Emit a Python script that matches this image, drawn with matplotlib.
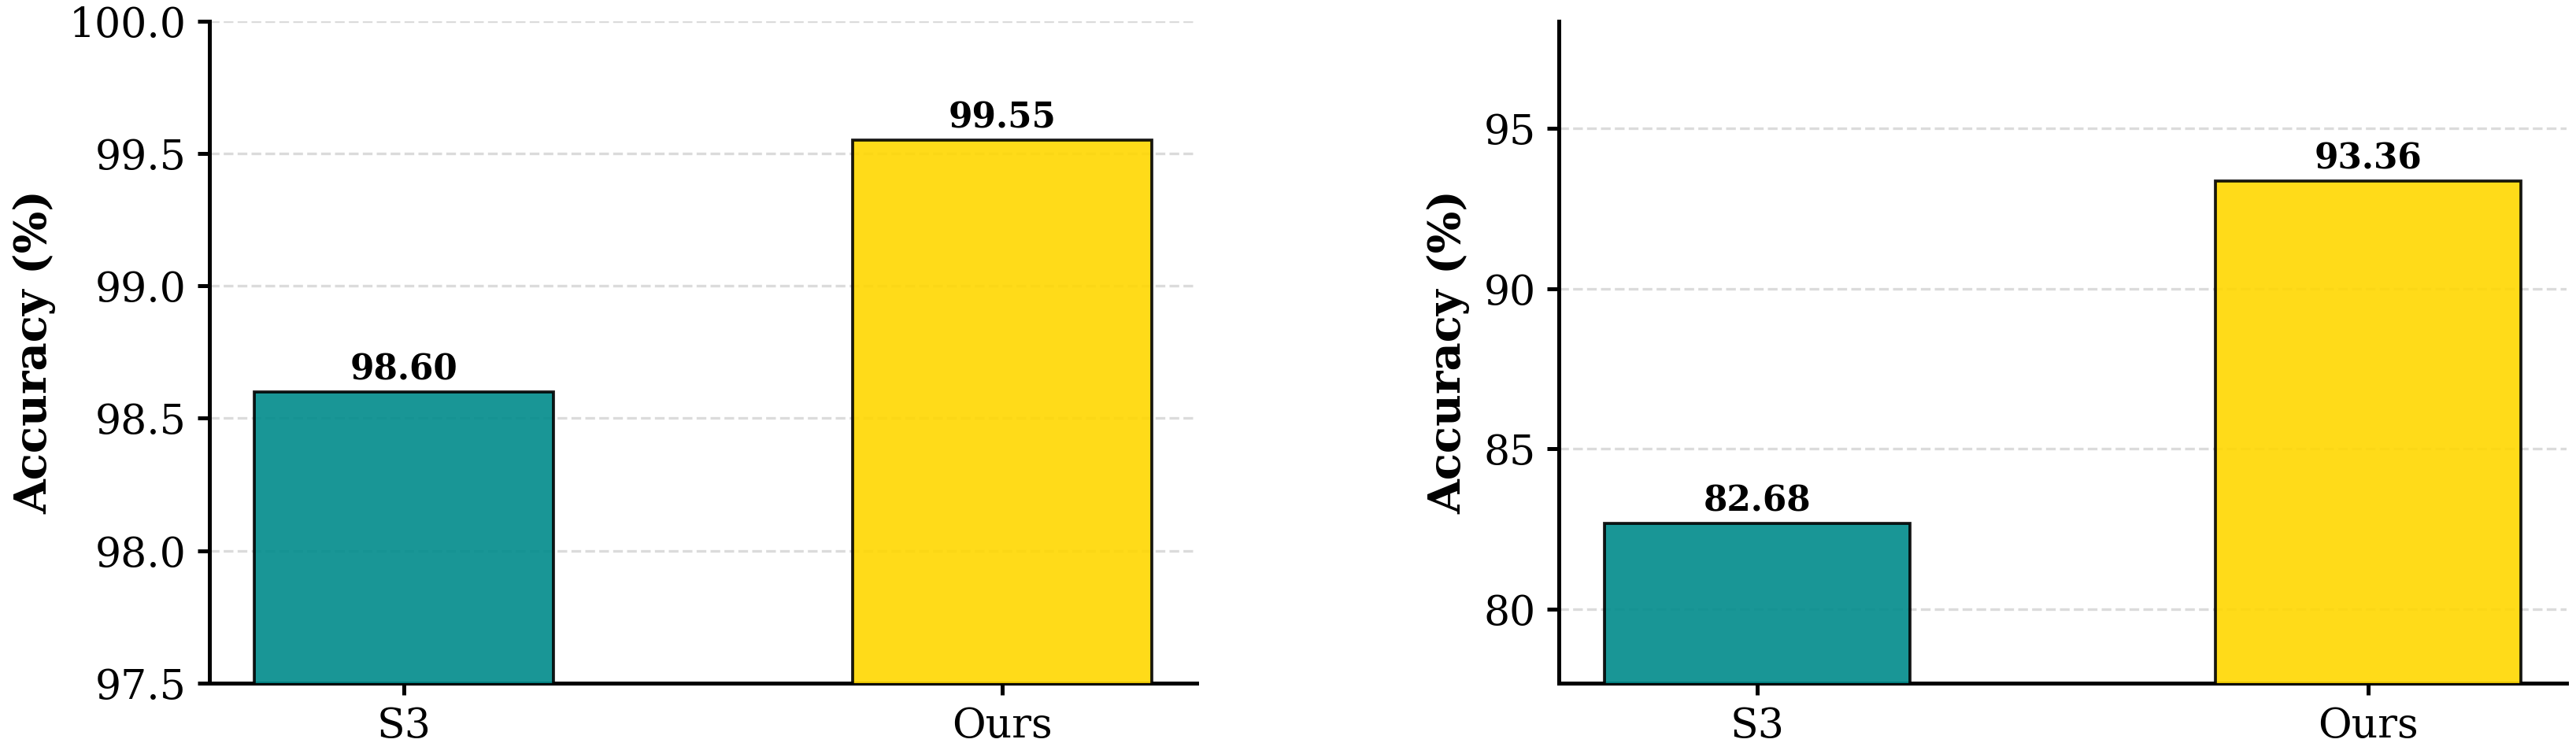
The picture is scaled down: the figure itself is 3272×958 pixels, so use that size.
import matplotlib
matplotlib.use("Agg")
import matplotlib.pyplot as plt

methods = ["S3", "Ours"]
acc_left = [98.60, 99.55]
acc_right = [82.68, 93.36]
ylim_left = (97.5, 100.0)
ylim_right = (77.68, 98.36)
yticks_left = [97.5, 98.0, 98.5, 99.0, 99.5, 100.0]
yticks_right = [80, 85, 90, 95]
colors = ["darkcyan", "gold"]

plt.rcParams["font.family"] = "DejaVu Serif"

fig = plt.figure(figsize=(3272 / 300, 958 / 300), dpi=300)
ax1 = fig.add_axes([0.0813, 0.0939, 0.3833, 0.8784])
ax2 = fig.add_axes([0.6051, 0.0939, 0.3912, 0.8784])


def draw(ax, vals, ylim, yticks, fmt):
    bars = ax.bar(methods, vals, width=0.5, color=colors, alpha=0.9,
                  edgecolor="black", linewidth=0.9, zorder=3)
    for b, v in zip(bars, vals):
        ax.annotate(f"{v:.2f}", (b.get_x() + b.get_width() / 2, v),
                    xytext=(0, 1.5), textcoords="offset points",
                    ha="center", va="bottom", fontsize=10.5, fontweight="bold")
    ax.set_ylim(*ylim)
    ax.set_yticks(yticks)
    ax.set_yticklabels([fmt.format(t) for t in yticks])
    ax.set_ylabel("Accuracy (%)", fontsize=13.5, fontweight="bold")
    ax.tick_params(axis="both", labelsize=12.5, width=1.2)
    ax.grid(axis="y", linestyle="--", color="#cccccc", alpha=0.7, linewidth=0.8, zorder=0)
    ax.set_axisbelow(True)
    for s in ["top", "right"]:
        ax.spines[s].set_visible(False)
    for s in ["left", "bottom"]:
        ax.spines[s].set_linewidth(1.2)


draw(ax1, acc_left, ylim_left, yticks_left, "{:.1f}")
draw(ax2, acc_right, ylim_right, yticks_right, "{:.0f}")

fig.savefig("out.png", dpi=300)
